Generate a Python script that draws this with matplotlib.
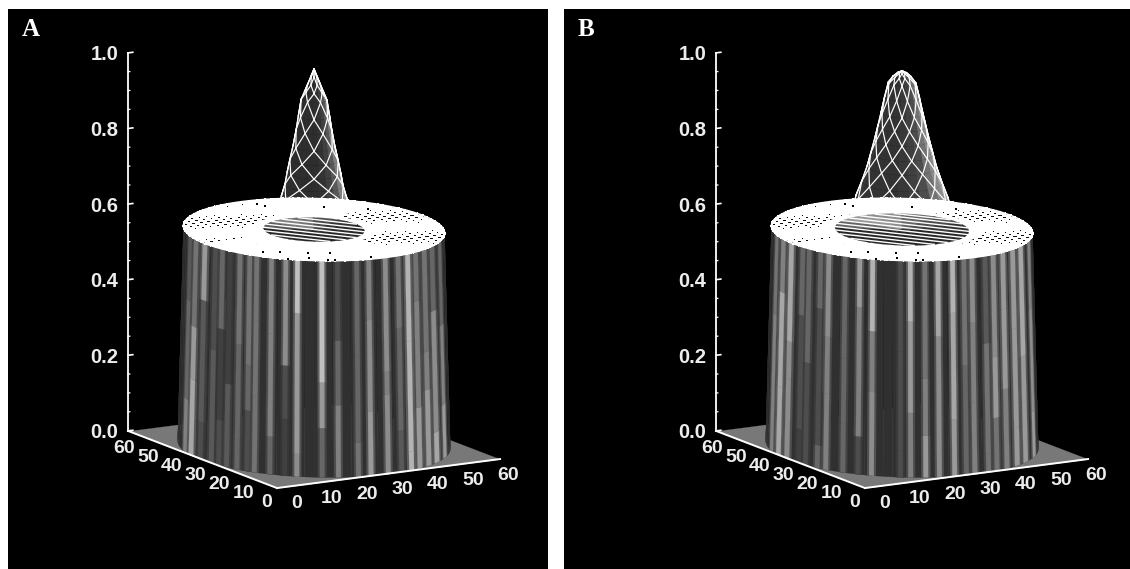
import numpy as np
import matplotlib
matplotlib.use('Agg')
import matplotlib.pyplot as plt
from matplotlib.patches import Rectangle
from mpl_toolkits.mplot3d import proj3d
from mpl_toolkits.mplot3d.art3d import Poly3DCollection

# tick values
z_ticks = [0.0, 0.2, 0.4, 0.6, 0.8, 1.0]
z_minor = [0.05, 0.1, 0.15, 0.25, 0.3, 0.35, 0.45, 0.5, 0.55, 0.65, 0.7, 0.75, 0.85, 0.9, 0.95]
xy_ticks = [0, 10, 20, 30, 40, 50, 60]

# panel A, bright streaks on the wall. angle runs 0 (left) to 180 (right) round the front
a_streak_deg = [18.6, 25.4, 33.3, 41, 45.5, 50, 55.5, 60.5, 64, 71, 77.5, 82.7, 93.4, 100.3, 109, 114.7, 123, 130, 135.7, 141, 147.5, 154.5, 164]
a_streak_top = [0.35, 0.45, 0.6, 0.3, 0.4, 0.25, 0.45, 0.45, 0.45, 0.5, 0.55, 0.75, 0.75, 0.3, 0.4, 0.5, 0.55, 0.45, 0.7, 0.45, 0.45, 0.4, 0.4]
a_streak_mid = [0.4, 0.6, 0.35, 0.35, 0.25, 0.25, 0.4, 0.4, 0.45, 0.5, 0.3, 0.6, 0.6, 0.4, 0.4, 0.55, 0.5, 0.4, 0.7, 0.5, 0.5, 0.55, 0.5]
a_streak_bot = [0.5, 0.65, 0.3, 0.35, 0.3, 0.35, 0.4, 0.3, 0.45, 0.4, 0.25, 0.55, 0.4, 0.5, 0.45, 0.6, 0.55, 0.35, 0.7, 0.6, 0.6, 0.65, 0.6]
# heights where each streak changes shade
a_step_hi = [0.4, 0.34, 0.42, 0.3, 0.36, 0.44, 0.33, 0.28, 0.4, 0.37, 0.29, 0.43, 0.25, 0.36, 0.32, 0.41, 0.27, 0.38, 0.34, 0.44, 0.3, 0.4, 0.35]
a_step_lo = [0.14, 0.2, 0.1, 0.18, 0.12, 0.22, 0.08, 0.16, 0.2, 0.1, 0.15, 0.06, 0.13, 0.19, 0.09, 0.17, 0.21, 0.11, 0.05, 0.16, 0.2, 0.08, 0.14]

# panel B streaks
b_streak_deg = [16.7, 24.8, 32.2, 40.6, 44.8, 51.5, 55.9, 64.2, 71.1, 77, 89.3, 93.6, 100, 105.9, 112.7, 118.2, 122.3, 129.4, 134.2, 140.4, 147.8, 155.2, 166]
b_streak_top = [0.45, 0.5, 0.65, 0.4, 0.4, 0.4, 0.55, 0.4, 0.6, 0.7, 0.3, 0.7, 0.45, 0.65, 0.7, 0.45, 0.55, 0.35, 0.55, 0.6, 0.6, 0.65, 0.5]
b_streak_mid = [0.5, 0.65, 0.55, 0.3, 0.3, 0.3, 0.5, 0.4, 0.5, 0.5, 0.3, 0.6, 0.5, 0.55, 0.65, 0.4, 0.5, 0.45, 0.6, 0.6, 0.6, 0.6, 0.55]
b_streak_bot = [0.5, 0.65, 0.55, 0.25, 0.3, 0.4, 0.5, 0.4, 0.3, 0.55, 0.3, 0.5, 0.6, 0.55, 0.6, 0.4, 0.5, 0.45, 0.45, 0.5, 0.6, 0.6, 0.6]
b_step_hi = [0.36, 0.43, 0.31, 0.39, 0.27, 0.42, 0.35, 0.3, 0.44, 0.38, 0.33, 0.41, 0.26, 0.37, 0.43, 0.29, 0.4, 0.34, 0.3, 0.42, 0.36, 0.28, 0.39]
b_step_lo = [0.12, 0.18, 0.21, 0.09, 0.16, 0.06, 0.2, 0.13, 0.1, 0.22, 0.07, 0.17, 0.11, 0.2, 0.15, 0.08, 0.19, 0.05, 0.14, 0.21, 0.1, 0.16, 0.12]

# central peak, radius against height
a_peak_r = [0, 0.7, 1.4, 2.1, 2.9, 3.5, 4, 4.7, 5.4, 6, 6.5, 7.3, 8.5]
a_peak_z = [0.995, 0.975, 0.955, 0.935, 0.913, 0.87, 0.833, 0.79, 0.754, 0.72, 0.688, 0.656, 0.6]
b_peak_r = [0, 1, 2, 3.1, 3.9, 4.7, 5.4, 6.15, 7, 7.8, 9, 10.3, 11.5]
b_peak_z = [0.99, 0.985, 0.975, 0.958, 0.92, 0.878, 0.843, 0.807, 0.77, 0.735, 0.695, 0.656, 0.6]

# peak shade round the front, left to right
a_peak_gray = [0.22, 0.2, 0.18, 0.18, 0.18, 0.18, 0.18, 0.2, 0.25, 0.35, 0.5, 0.6]
b_peak_gray = [0.25, 0.22, 0.2, 0.2, 0.2, 0.2, 0.22, 0.25, 0.3, 0.45, 0.55, 0.65]

# angle between net crossings on the peak
a_net_step = 60
b_net_step = 36

# plateau shade, 15 degree sectors
plateau_z = 0.57
plateau_r = 29.2
plateau_gray = [0.05, 0.05, 1, 1, 1, 1, 0.05, 0.05, 0.05, 0.05, 0.05, 0.05,
                1, 1, 1, 1, 1, 1, 1, 0.05, 0.05, 0.05, 0.05, 0.05]

# black specks in the white part of the plateau, offsets from the centre
speck_dx = [1.7, 2.5, 21.6, -13.2, -11.8, -13.5, -22, -20.7, -18.6, -2.8, -9, -16, 14]
speck_dy = [25.7, 23.5, 10.6, -25.4, -26.1, -17.8, -12.5, -20.5, -14.2, -27, -20, -22, 17]

# hollow in the plateau
a_dip_r = 11.3
b_dip_r = 15.0
a_dip_gray = [0.15, 0.15, 0.15, 0.15, 0.15, 0.15, 0.15, 0.2, 0.3, 0.45, 0.5, 0.35]
b_dip_gray = [0.15, 0.15, 0.15, 0.15, 0.15, 0.15, 0.2, 0.3, 0.4, 0.55, 0.6, 0.4]
a_dip_lines = [-9, -6, -3, 0, 3, 6, 9]
b_dip_lines = [-13, -10, -7, -4, -1, 2, 5, 8, 11, 13.5]

mesh = list(range(0, 61, 2))

# view
elev = 12.9
azim = 239.8
turn = 33.7
box = (258.2, 296.2, 387.8)
zoom = 1.0306
side = 520
fig_w = 1130
fig_h = 569


def on_circle(r, deg):
    t = np.radians(180 + np.asarray(deg, dtype=float) - turn)
    return 30 + r * np.cos(t), 30 + r * np.sin(t)


def wall_radius(z):
    # the wall leans out a little towards the floor
    return 29.2 + 1.3 * (plateau_z - z) / plateau_z


def gray(v):
    return (v, v, v)


def add_polys(ax, verts, colors, order):
    poly = Poly3DCollection(verts, facecolors=colors, edgecolors=colors, linewidths=0.15)
    poly.set_zorder(order)
    ax.add_collection3d(poly, autolim=False)


def strip(a1, a2, z1, z2):
    x1, y1 = on_circle(wall_radius(z1), a1)
    x2, y2 = on_circle(wall_radius(z1), a2)
    x3, y3 = on_circle(wall_radius(z2), a2)
    x4, y4 = on_circle(wall_radius(z2), a1)
    return [(x1, y1, z1), (x2, y2, z1), (x3, y3, z2), (x4, y4, z2)]


def draw_wall(ax, deg, top, mid, bot, hi, lo):
    base = [strip(a, a + 4, plateau_z, 0) for a in range(-6, 186, 4)]
    add_polys(ax, base, [gray(0.19)] * len(base), 2)
    for scale, order in ((1.5, 3), (0.8, 4)):
        verts = []
        colors = []
        for k, a in enumerate(deg):
            w = scale * 1.25 / max(np.sin(np.radians(a)), 0.45)
            levels = [plateau_z, hi[k], lo[k], 0]
            for i, row in enumerate((top, mid, bot)):
                verts.append(strip(a - w, a + w, levels[i], levels[i + 1]))
                g = row[k]
                colors.append(gray(g if order == 4 else 0.35 * g + 0.65 * 0.19))
        add_polys(ax, verts, colors, order)


def draw_peak(ax, peak_r, peak_z, shade, net_step):
    verts = []
    colors = []
    for s, g in enumerate(shade):
        a1 = s * 15 - 6
        a2 = a1 + 16
        for i in range(len(peak_r) - 1):
            x1, y1 = on_circle(peak_r[i], a1)
            x2, y2 = on_circle(peak_r[i], a2)
            x3, y3 = on_circle(peak_r[i + 1], a2)
            x4, y4 = on_circle(peak_r[i + 1], a1)
            verts.append([(x1, y1, peak_z[i]), (x2, y2, peak_z[i]), (x3, y3, peak_z[i + 1]), (x4, y4, peak_z[i + 1])])
            colors.append(gray(g))
    add_polys(ax, verts, colors, 5)
    # diamond net on the front of the peak, crossings shift half a step per ring
    half = net_step / 2
    for i in range(len(peak_r) - 1):
        count = int(180 / net_step) + 2
        for k in range(-1, count):
            a = k * net_step + (half if i % 2 else 0)
            for b in (a - half, a + half):
                a_from = np.clip(a, -4, 184)
                a_to = np.clip(b, -4, 184)
                x1, y1 = on_circle(peak_r[i], a_from)
                x2, y2 = on_circle(peak_r[i + 1], a_to)
                ax.plot([x1, x2], [y1, y2], [peak_z[i], peak_z[i + 1]], color='white', lw=0.85, zorder=6)


def draw_plateau(ax, dip_r, dip_shade, dip_lines):
    verts = []
    colors = []
    for s, g in enumerate(plateau_gray):
        a1 = s * 15 + turn - 180
        x, y = on_circle(plateau_r, [a1, a1 + 5, a1 + 10, a1 + 15.5])
        verts.append([(30, 30, plateau_z)] + [(px, py, plateau_z) for px, py in zip(x, y)])
        colors.append(gray(g))
    add_polys(ax, verts, colors, 7)
    # white collar round the hollow
    collar = []
    for a1 in range(0, 360, 20):
        x1, y1 = on_circle(dip_r + 2.5, [a1, a1 + 10, a1 + 21])
        x2, y2 = on_circle(dip_r, [a1 + 21, a1 + 10, a1])
        collar.append([(px, py, plateau_z) for px, py in zip(list(x1) + list(x2), list(y1) + list(y2))])
    add_polys(ax, collar, ['white'] * len(collar), 7.5)
    # grid lines over the flat top, hard edged like the scan
    for d in mesh:
        off = d - 30
        if abs(off) >= plateau_r:
            continue
        half = np.sqrt(plateau_r ** 2 - off ** 2)
        ax.plot([d, d], [30 - half, 30 + half], [plateau_z, plateau_z], color='white', lw=0.72, antialiased=False, zorder=8)
        ax.plot([30 - half, 30 + half], [d, d], [plateau_z, plateau_z], color='white', lw=0.72, antialiased=False, zorder=8)
    x, y = on_circle(plateau_r, np.arange(0, 361, 3))
    ax.plot(x, y, np.full(x.shape, plateau_z), color='white', lw=1.2, zorder=8)
    ax.scatter(30 + np.array(speck_dx), 30 + np.array(speck_dy), plateau_z, s=3, c='black', marker='s',
               linewidths=0, depthshade=False, zorder=8.5)
    # hollow
    verts = []
    colors = []
    for s, g in enumerate(dip_shade):
        a1 = s * 30
        x, y = on_circle(dip_r, [a1, a1 + 10, a1 + 20, a1 + 31])
        verts.append([(30, 30, plateau_z)] + [(px, py, plateau_z) for px, py in zip(x, y)])
        colors.append(gray(g))
    add_polys(ax, verts, colors, 9)
    for off in dip_lines:
        half = np.sqrt(dip_r ** 2 - off ** 2)
        xs = [30 + 0.8 * off - 0.6 * half, 30 + 0.8 * off + 0.6 * half]
        ys = [30 + 0.6 * off + 0.8 * half, 30 + 0.6 * off - 0.8 * half]
        ax.plot(xs, ys, [plateau_z, plateau_z], color='white', lw=1.0, zorder=10)


def label(ax, x, y, z, s, size):
    px, py, _ = proj3d.proj_transform(x, y, z, ax.get_proj())
    ax.text2D(px, py, s, transform=ax.transData, color='#ececec', fontsize=size, fontweight='bold',
              family='Liberation Sans', ha='center', va='center', zorder=12)


def draw_frame(ax):
    add_polys(ax, [[(0, 0, 0), (60, 0, 0), (60, 60, 0), (0, 60, 0)]], [gray(0.47)], 1)
    ax.plot([0, 60], [0, 0], [0, 0], color='white', lw=1.4, zorder=11)
    ax.plot([0, 0], [0, 60], [0, 0], color='white', lw=1.4, zorder=11)
    ax.plot([0, 0], [60, 60], [0, 1], color='white', lw=1.3, zorder=11)
    for z in z_ticks:
        ax.plot([0, 1.3], [60, 60], [z, z], color='white', lw=1.2, zorder=11)
        label(ax, -4.6, 62.6, z - 0.006, '%.1f' % z, 14.5)
    for z in z_minor:
        ax.plot([0, 0.5], [60, 60], [z, z], color='white', lw=0.9, zorder=11)
    for t in xy_ticks:
        label(ax, t * 0.946, -8, -0.02, str(t), 14)
        label(ax, -2.7, t * 0.96, -0.036, str(t), 14)


def make_panel(fig, left_px, deg, top, mid, bot, hi, lo, peak_r, peak_z, peak_gray, net_step, dip_r, dip_gray, dip_lines):
    ax = fig.add_axes([left_px / fig_w, (569 - 523) / fig_h, side / fig_w, side / fig_h],
                      projection='3d', proj_type='ortho', computed_zorder=False)
    ax.set_axis_off()
    ax.patch.set_visible(False)
    ax.set_xlim(0, 60)
    ax.set_ylim(0, 60)
    ax.set_zlim(0, 1)
    ax.set_box_aspect(box, zoom=zoom)
    ax.view_init(elev=elev, azim=azim)
    draw_frame(ax)
    draw_wall(ax, deg, top, mid, bot, hi, lo)
    draw_peak(ax, peak_r, peak_z, peak_gray, net_step)
    draw_plateau(ax, dip_r, dip_gray, dip_lines)
    return ax


fig = plt.figure(figsize=(fig_w / 100, fig_h / 100), dpi=100, facecolor='white')

for x0, x1 in ((8, 548), (564, 1130)):
    fig.add_artist(Rectangle((x0 / fig_w, 0), (x1 - x0) / fig_w, (fig_h - 9) / fig_h, transform=fig.transFigure,
                             facecolor='black', edgecolor='none', zorder=-1))

make_panel(fig, 47, a_streak_deg, a_streak_top, a_streak_mid, a_streak_bot, a_step_hi, a_step_lo,
           a_peak_r, a_peak_z, a_peak_gray, a_net_step, a_dip_r, a_dip_gray, a_dip_lines)
make_panel(fig, 635, b_streak_deg, b_streak_top, b_streak_mid, b_streak_bot, b_step_hi, b_step_lo,
           b_peak_r, b_peak_z, b_peak_gray, b_net_step, b_dip_r, b_dip_gray, b_dip_lines)

fig.text(31 / fig_w, 1 - 29 / fig_h, 'A', color='white', fontsize=18, fontweight='bold',
         family='Liberation Serif', ha='center', va='center')
fig.text(586 / fig_w, 1 - 29 / fig_h, 'B', color='white', fontsize=18, fontweight='bold',
         family='Liberation Serif', ha='center', va='center')

fig.savefig('out.png', dpi=100, facecolor='white')
